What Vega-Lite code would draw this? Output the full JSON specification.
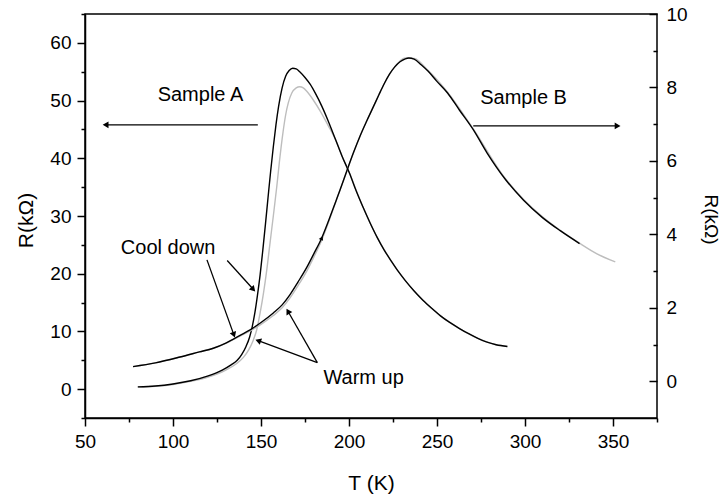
{
  "$schema": "https://vega.github.io/schema/vega-lite/v6.json",
  "width": 572,
  "height": 404,
  "autosize": "none",
  "padding": {"left": 85, "top": 14, "right": 64, "bottom": 78},
  "background": "white",
  "config": {
    "font": "Liberation Sans",
    "view": {"stroke": "black", "strokeWidth": 1.5},
    "axis": {
      "domainColor": "black", "domainWidth": 1.5, "tickColor": "black", "tickWidth": 1.5,
      "labelColor": "black", "titleColor": "black", "labelFontSize": 19, "titleFontSize": 21,
      "titleFontWeight": "normal", "grid": false, "labelFont": "Liberation Sans", "titleFont": "Liberation Sans"
    }
  },
  "datasets": {
    "sampleA": [
      {"T": 80, "R": 0.4, "run": "cool"}, {"T": 90, "R": 0.55, "run": "cool"}, {"T": 100, "R": 0.9, "run": "cool"},
      {"T": 110, "R": 1.45, "run": "cool"}, {"T": 120, "R": 2.3, "run": "cool"}, {"T": 128, "R": 3.3, "run": "cool"},
      {"T": 133, "R": 4.2, "run": "cool"}, {"T": 136.5, "R": 5.0, "run": "cool"}, {"T": 139, "R": 6.0, "run": "cool"},
      {"T": 141.5, "R": 7.4, "run": "cool"}, {"T": 143.5, "R": 9.0, "run": "cool"}, {"T": 145, "R": 10.8, "run": "cool"},
      {"T": 146.5, "R": 13.2, "run": "cool"}, {"T": 148, "R": 16.3, "run": "cool"}, {"T": 149.5, "R": 19.8, "run": "cool"},
      {"T": 151, "R": 24.0, "run": "cool"}, {"T": 152.5, "R": 28.5, "run": "cool"}, {"T": 154, "R": 33.2, "run": "cool"},
      {"T": 155.5, "R": 37.8, "run": "cool"}, {"T": 157, "R": 42.0, "run": "cool"}, {"T": 158.5, "R": 45.8, "run": "cool"},
      {"T": 160, "R": 49.0, "run": "cool"}, {"T": 162, "R": 52.2, "run": "cool"}, {"T": 164, "R": 54.2, "run": "cool"},
      {"T": 166, "R": 55.2, "run": "cool"}, {"T": 168, "R": 55.6, "run": "cool"}, {"T": 170, "R": 55.5, "run": "cool"},
      {"T": 172, "R": 55.0, "run": "cool"}, {"T": 175, "R": 54.0, "run": "cool"}, {"T": 178, "R": 52.8, "run": "cool"},
      {"T": 181, "R": 51.2, "run": "cool"}, {"T": 184.6, "R": 49.0, "run": "cool"}, {"T": 188, "R": 46.6, "run": "cool"},
      {"T": 192.4, "R": 43.2, "run": "cool"}, {"T": 196, "R": 40.4, "run": "cool"}, {"T": 200.3, "R": 37.4, "run": "cool"},
      {"T": 204, "R": 34.4, "run": "cool"}, {"T": 208, "R": 31.5, "run": "cool"}, {"T": 212, "R": 28.8, "run": "cool"},
      {"T": 216, "R": 26.3, "run": "cool"}, {"T": 220, "R": 24.1, "run": "cool"}, {"T": 224, "R": 22.2, "run": "cool"},
      {"T": 228, "R": 20.4, "run": "cool"}, {"T": 232, "R": 18.8, "run": "cool"}, {"T": 237, "R": 17.0, "run": "cool"},
      {"T": 242, "R": 15.4, "run": "cool"}, {"T": 247, "R": 14.0, "run": "cool"}, {"T": 252, "R": 12.7, "run": "cool"},
      {"T": 257, "R": 11.6, "run": "cool"}, {"T": 262.8, "R": 10.5, "run": "cool"}, {"T": 268, "R": 9.6, "run": "cool"},
      {"T": 273.2, "R": 8.8, "run": "cool"}, {"T": 278, "R": 8.2, "run": "cool"}, {"T": 283.6, "R": 7.7, "run": "cool"},
      {"T": 290, "R": 7.4, "run": "cool"},
      {"T": 80, "R": 0.35, "run": "warm"}, {"T": 90, "R": 0.5, "run": "warm"}, {"T": 100, "R": 0.8, "run": "warm"},
      {"T": 110, "R": 1.35, "run": "warm"}, {"T": 120, "R": 2.1, "run": "warm"}, {"T": 130, "R": 3.3, "run": "warm"},
      {"T": 136, "R": 4.4, "run": "warm"}, {"T": 140, "R": 5.5, "run": "warm"}, {"T": 143, "R": 6.8, "run": "warm"},
      {"T": 145.5, "R": 8.4, "run": "warm"}, {"T": 147.5, "R": 10.2, "run": "warm"}, {"T": 149.5, "R": 13.2, "run": "warm"},
      {"T": 151.5, "R": 16.8, "run": "warm"}, {"T": 153, "R": 20.0, "run": "warm"}, {"T": 155, "R": 25.0, "run": "warm"},
      {"T": 157, "R": 30.0, "run": "warm"}, {"T": 159, "R": 35.2, "run": "warm"}, {"T": 160.5, "R": 39.5, "run": "warm"},
      {"T": 162.5, "R": 44.5, "run": "warm"}, {"T": 164, "R": 47.5, "run": "warm"}, {"T": 165.5, "R": 49.6, "run": "warm"},
      {"T": 167.5, "R": 51.3, "run": "warm"}, {"T": 170, "R": 52.2, "run": "warm"}, {"T": 172, "R": 52.4, "run": "warm"},
      {"T": 174, "R": 52.2, "run": "warm"}, {"T": 176, "R": 51.6, "run": "warm"}, {"T": 179.7, "R": 50.1, "run": "warm"},
      {"T": 184, "R": 48.0, "run": "warm"}, {"T": 189, "R": 45.2, "run": "warm"}, {"T": 192.4, "R": 43.2, "run": "warm"},
      {"T": 196, "R": 40.4, "run": "warm"}, {"T": 200.3, "R": 37.4, "run": "warm"}, {"T": 208, "R": 31.5, "run": "warm"},
      {"T": 216, "R": 26.3, "run": "warm"}, {"T": 224, "R": 22.2, "run": "warm"}, {"T": 232, "R": 18.8, "run": "warm"},
      {"T": 242, "R": 15.4, "run": "warm"}, {"T": 252, "R": 12.7, "run": "warm"}, {"T": 262.8, "R": 10.5, "run": "warm"},
      {"T": 273.2, "R": 8.8, "run": "warm"}, {"T": 283.6, "R": 7.7, "run": "warm"}, {"T": 290, "R": 7.4, "run": "warm"}
    ],
    "sampleB": [
      {"T": 77.3, "R": 0.4, "run": "cool"}, {"T": 90, "R": 0.5, "run": "cool"}, {"T": 104, "R": 0.66, "run": "cool"},
      {"T": 115, "R": 0.8, "run": "cool"}, {"T": 122.9, "R": 0.9, "run": "cool"}, {"T": 130, "R": 1.04, "run": "cool"},
      {"T": 134.3, "R": 1.15, "run": "cool"}, {"T": 138.1, "R": 1.25, "run": "cool"}, {"T": 143.8, "R": 1.4, "run": "cool"},
      {"T": 150, "R": 1.6, "run": "cool"}, {"T": 157, "R": 1.86, "run": "cool"}, {"T": 162, "R": 2.08, "run": "cool"},
      {"T": 166.5, "R": 2.36, "run": "cool"}, {"T": 171, "R": 2.7, "run": "cool"}, {"T": 176, "R": 3.1, "run": "cool"},
      {"T": 180, "R": 3.47, "run": "cool"}, {"T": 184.5, "R": 3.9, "run": "cool"}, {"T": 188, "R": 4.32, "run": "cool"},
      {"T": 191.1, "R": 4.72, "run": "cool"}, {"T": 195, "R": 5.22, "run": "cool"}, {"T": 198.7, "R": 5.72, "run": "cool"},
      {"T": 202.5, "R": 6.22, "run": "cool"}, {"T": 206.3, "R": 6.68, "run": "cool"}, {"T": 210, "R": 7.08, "run": "cool"},
      {"T": 213.8, "R": 7.47, "run": "cool"}, {"T": 217, "R": 7.8, "run": "cool"}, {"T": 220, "R": 8.1, "run": "cool"},
      {"T": 223, "R": 8.36, "run": "cool"}, {"T": 226, "R": 8.56, "run": "cool"}, {"T": 229, "R": 8.7, "run": "cool"},
      {"T": 232, "R": 8.78, "run": "cool"}, {"T": 234, "R": 8.8, "run": "cool"}, {"T": 237, "R": 8.77, "run": "cool"},
      {"T": 241, "R": 8.62, "run": "cool"}, {"T": 245, "R": 8.44, "run": "cool"}, {"T": 249.7, "R": 8.18, "run": "cool"},
      {"T": 256, "R": 7.85, "run": "cool"}, {"T": 262.8, "R": 7.38, "run": "cool"}, {"T": 270.6, "R": 6.85, "run": "cool"},
      {"T": 278.4, "R": 6.22, "run": "cool"}, {"T": 288.8, "R": 5.5, "run": "cool"}, {"T": 299.2, "R": 4.93, "run": "cool"},
      {"T": 309.6, "R": 4.47, "run": "cool"}, {"T": 320, "R": 4.1, "run": "cool"}, {"T": 331, "R": 3.75, "run": "cool"},
      {"T": 77.3, "R": 0.4, "run": "warm"}, {"T": 90, "R": 0.5, "run": "warm"}, {"T": 104, "R": 0.66, "run": "warm"},
      {"T": 115, "R": 0.8, "run": "warm"}, {"T": 122.9, "R": 0.9, "run": "warm"}, {"T": 130, "R": 1.03, "run": "warm"},
      {"T": 138.1, "R": 1.23, "run": "warm"}, {"T": 143.8, "R": 1.37, "run": "warm"}, {"T": 150, "R": 1.55, "run": "warm"},
      {"T": 157, "R": 1.79, "run": "warm"}, {"T": 162, "R": 2.0, "run": "warm"}, {"T": 166.5, "R": 2.27, "run": "warm"},
      {"T": 171, "R": 2.6, "run": "warm"}, {"T": 176, "R": 3.0, "run": "warm"}, {"T": 180, "R": 3.38, "run": "warm"},
      {"T": 184.5, "R": 3.84, "run": "warm"}, {"T": 188, "R": 4.28, "run": "warm"}, {"T": 191.1, "R": 4.7, "run": "warm"},
      {"T": 195, "R": 5.22, "run": "warm"}, {"T": 198.7, "R": 5.72, "run": "warm"}, {"T": 206.3, "R": 6.68, "run": "warm"},
      {"T": 213.8, "R": 7.47, "run": "warm"}, {"T": 220, "R": 8.1, "run": "warm"}, {"T": 226, "R": 8.56, "run": "warm"},
      {"T": 232, "R": 8.8, "run": "warm"}, {"T": 237, "R": 8.79, "run": "warm"}, {"T": 245, "R": 8.46, "run": "warm"},
      {"T": 256, "R": 7.87, "run": "warm"}, {"T": 270.6, "R": 6.87, "run": "warm"}, {"T": 288.8, "R": 5.52, "run": "warm"},
      {"T": 299.2, "R": 4.95, "run": "warm"}, {"T": 309.6, "R": 4.49, "run": "warm"}, {"T": 320, "R": 4.11, "run": "warm"},
      {"T": 331, "R": 3.76, "run": "warm"}, {"T": 340.9, "R": 3.47, "run": "warm"}, {"T": 351.3, "R": 3.25, "run": "warm"}
    ],
    "arrowData": [
      {"x1": 148.2, "y1": 45.8, "x2": 61.7, "y2": 45.8, "angle": 270},
      {"x1": 270.6, "y1": 45.6, "x2": 352.6, "y2": 45.6, "angle": 90},
      {"x1": 119.3, "y1": 22.4, "x2": 134.6, "y2": 9.4, "angle": 160},
      {"x1": 130.8, "y1": 22.3, "x2": 145.6, "y2": 17.3, "angle": 138},
      {"x1": 182, "y1": 4.6, "x2": 148.4, "y2": 8.4, "angle": 290},
      {"x1": 182, "y1": 4.6, "x2": 165.3, "y2": 13.5, "angle": 330}
    ],
    "noteData": [
      {"T": 115.6, "R": 50.9, "text": "Sample A"},
      {"T": 299.2, "R": 50.5, "text": "Sample B"},
      {"T": 97.2, "R": 24.5, "text": "Cool down"},
      {"T": 208.3, "R": 2.0, "text": "Warm up"}
    ],
    "headData": [
      {"T": 184.5, "R": 3.9, "angle": 23}
    ]
  },
  "layer": [
    {
      "data": {"name": "sampleA"},
      "transform": [{"filter": "datum.run === 'warm'"}],
      "mark": {"type": "line", "color": "#bdbdbd", "strokeWidth": 1.4, "interpolate": "monotone"},
      "encoding": {
        "x": {"field": "T", "type": "quantitative", "scale": {"domain": [50, 375], "nice": false, "zero": false},
          "axis": {"orient": "bottom", "values": [50, 75, 100, 125, 150, 175, 200, 225, 250, 275, 300, 325, 350, 375],
            "labelExpr": "datum.value % 50 === 0 ? datum.label : ''",
            "tickSize": 8,
            "tickDash": {"condition": {"test": "datum.value % 50 !== 0", "value": [4, 30]}, "value": [8, 0]},
            "labelFlush": false, "labelOverlap": false,
            "labelPadding": 6, "title": "T (K)", "titleX": 286, "titleY": 65, "titleBaseline": "middle"}},
        "y": {"field": "R", "type": "quantitative", "scale": {"domain": [-5, 65], "nice": false, "zero": false},
          "axis": {"orient": "left", "values": [-5, 0, 5, 10, 15, 20, 25, 30, 35, 40, 45, 50, 55, 60, 65],
            "labelExpr": "datum.value % 10 === 0 ? datum.label : ''",
            "tickSize": 8,
            "tickDash": {"condition": {"test": "datum.value % 10 !== 0", "value": [4, 30]}, "value": [8, 0]},
            "labelFlush": false, "labelOverlap": false,
            "labelPadding": 6, "title": "R(kΩ)", "titleX": -59, "titleY": 206, "titleAngle": -90, "titleBaseline": "middle"}}
      }
    },
    {
      "data": {"name": "sampleA"},
      "transform": [{"filter": "datum.run === 'cool'"}],
      "mark": {"type": "line", "color": "#000000", "strokeWidth": 1.4, "interpolate": "monotone"},
      "encoding": {
        "x": {"field": "T", "type": "quantitative"},
        "y": {"field": "R", "type": "quantitative", "scale": {"domain": [-5, 65], "nice": false, "zero": false}, "axis": null}
      }
    },
    {
      "data": {"name": "arrowData"},
      "mark": {"type": "rule", "color": "#000000", "strokeWidth": 1.3},
      "encoding": {
        "x": {"field": "x1", "type": "quantitative"},
        "y": {"field": "y1", "type": "quantitative", "scale": {"domain": [-5, 65], "nice": false, "zero": false}, "axis": null},
        "x2": {"field": "x2"},
        "y2": {"field": "y2"}
      }
    },
    {
      "data": {"name": "arrowData"},
      "mark": {"type": "point", "shape": "triangle-up", "filled": true, "color": "#000000", "size": 45, "opacity": 1},
      "encoding": {
        "x": {"field": "x2", "type": "quantitative"},
        "y": {"field": "y2", "type": "quantitative", "scale": {"domain": [-5, 65], "nice": false, "zero": false}, "axis": null},
        "angle": {"field": "angle", "type": "quantitative", "scale": null}
      }
    },
    {
      "data": {"name": "noteData"},
      "mark": {"type": "text", "fontSize": 20, "font": "Liberation Sans", "color": "#000000", "align": "center", "baseline": "middle"},
      "encoding": {
        "x": {"field": "T", "type": "quantitative"},
        "y": {"field": "R", "type": "quantitative", "scale": {"domain": [-5, 65], "nice": false, "zero": false}, "axis": null},
        "text": {"field": "text"}
      }
    },
    {
      "data": {"name": "sampleB"},
      "transform": [{"filter": "datum.run === 'warm'"}],
      "mark": {"type": "line", "color": "#bdbdbd", "strokeWidth": 1.4, "interpolate": "monotone"},
      "encoding": {
        "x": {"field": "T", "type": "quantitative"},
        "y": {"field": "R", "type": "quantitative", "scale": {"domain": [-1, 10], "nice": false, "zero": false},
          "axis": {"orient": "right", "values": [0, 1, 2, 3, 4, 5, 6, 7, 8, 9, 10],
            "labelExpr": "datum.value % 2 === 0 ? datum.label : ''",
            "tickSize": 8, "offset": -8, "domain": false,
            "tickDash": {"condition": {"test": "datum.value % 2 !== 0", "value": [0, 4, 4, 30]}, "value": [8, 0]},
            "labelFlush": false, "labelOverlap": false,
            "labelPadding": 9, "title": "R(kΩ)", "titleFontSize": 19, "titleX": 61, "titleY": 205, "titleAngle": 90, "titleBaseline": "middle"}}
      }
    },
    {
      "data": {"name": "sampleB"},
      "transform": [{"filter": "datum.run === 'cool'"}],
      "mark": {"type": "line", "color": "#000000", "strokeWidth": 1.4, "interpolate": "monotone"},
      "encoding": {
        "x": {"field": "T", "type": "quantitative"},
        "y": {"field": "R", "type": "quantitative", "scale": {"domain": [-1, 10], "nice": false, "zero": false}, "axis": null}
      }
    },
    {
      "data": {"name": "headData"},
      "mark": {"type": "point", "shape": "triangle-up", "filled": true, "color": "#000000", "size": 22, "opacity": 1},
      "encoding": {
        "x": {"field": "T", "type": "quantitative"},
        "y": {"field": "R", "type": "quantitative", "scale": {"domain": [-1, 10], "nice": false, "zero": false}, "axis": null},
        "angle": {"field": "angle", "type": "quantitative", "scale": null}
      }
    }
  ],
  "resolve": {"scale": {"y": "independent"}}
}
